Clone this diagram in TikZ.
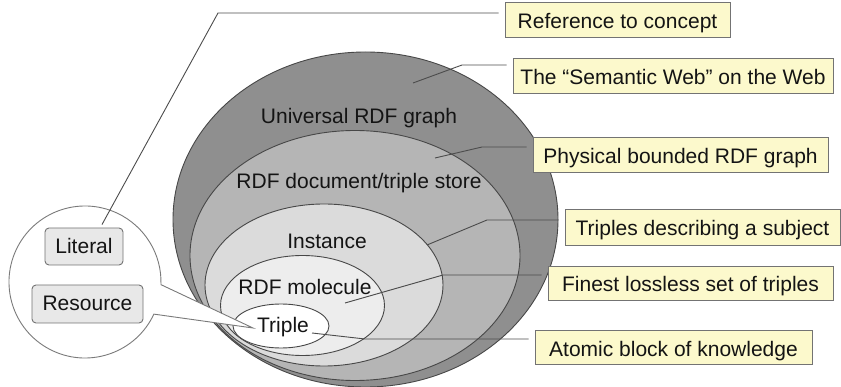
\documentclass[tikz,border=0pt]{standalone}
\usepackage{fontspec}
\setmainfont{Liberation Sans}
\usetikzlibrary{calc}
\definecolor{ringA}{gray}{0.56}
\definecolor{ringB}{gray}{0.71}
\definecolor{ringC}{gray}{0.86}
\definecolor{ringD}{gray}{0.93}
\definecolor{edge}{gray}{0.28}
\definecolor{lead}{gray}{0.3}
\definecolor{notefill}{RGB}{252,249,204}
\definecolor{noteedge}{gray}{0.45}
\definecolor{tagfill}{gray}{0.91}
\definecolor{lens}{gray}{0.48}
\begin{document}
\begin{tikzpicture}[x=1pt,y=-1pt,
  font=\fontsize{21}{25}\selectfont,
  every node/.style={text=black!92},
  ring/.style={draw=edge,line width=0.9pt},
  lbl/.style={anchor=base,inner sep=0pt},
  note/.style={draw=noteedge,fill=notefill,line width=0.9pt,minimum height=35pt,
    inner sep=0pt,text height=19pt,text depth=1pt},
  tag/.style={draw=noteedge,fill=tagfill,rounded corners=4pt,line width=0.9pt,
    inner sep=0pt,text height=17pt,text depth=3pt},
  leader/.style={draw=lead,line width=0.9pt,shorten >=6pt}]

\useasboundingbox (0,0) rectangle (841,387);

% nested sets, from the whole web down to a single triple
\filldraw[ring,fill=ringA] (365.5,219.5) ellipse [x radius=192.5pt, y radius=167.5pt];
\filldraw[ring,fill=ringB] (355,255.5) ellipse [x radius=165pt, y radius=125pt];
\filldraw[ring,fill=ringC] (324,285) ellipse [x radius=119pt, y radius=81pt];
\filldraw[ring,fill=ringD] (302.5,305.5) ellipse [x radius=82pt, y radius=50pt];
\filldraw[ring,fill=white] (281,326) ellipse [x radius=48pt, y radius=22pt];

% magnifying lens pointing at the triple
\coordinate (lensc) at (85,282);
\coordinate (tip) at (253,328);
\filldraw[draw=lens,fill=white,line width=0.9pt]
  ([shift={(-2:76pt)}]lensc) -- (tip) -- ([shift={(-25:76pt)}]lensc)
  arc[start angle=-25,end angle=-362,radius=76pt] -- cycle;

% set labels
\node[lbl] (univ) at (359,124) {Universal RDF graph};
\node[lbl] (doc) at (359,189) {RDF document/triple store};
\node[lbl] (inst) at (327,249) {Instance};
\node[lbl] (mol) at (305,295) {RDF molecule};
\node[lbl] (trip) at (283,333) {Triple};

% parts of a triple
\node[tag,minimum width=78pt,minimum height=37pt] (lit) at (84,246.5) {Literal};
\node[tag,minimum width=111pt,minimum height=38pt] (res) at (87.5,304) {Resource};

% explanations
\node[note,minimum width=225pt] (ref) at (617.5,19.5) {Reference to concept};
\node[note,minimum width=320pt] (sw) at (673,75.5) {The “Semantic Web” on the Web};
\node[note,minimum width=295pt] (phys) at (680.5,154.5) {Physical bounded RDF graph};
\node[note,minimum width=275pt,minimum height=36pt] (subj) at (702.5,227) {Triples describing a subject};
\node[note,minimum width=285pt,minimum height=34pt] (fine) at (690.5,283) {Finest lossless set of triples};
\node[note,minimum width=277pt,minimum height=34pt] (atom) at (673.5,347) {Atomic block of knowledge};

% leader lines
\coordinate (r0) at (218,13);
\draw[leader] ([xshift=18pt,yshift=3pt]lit.north) -- (r0) -- (r0 -| ref.west);
\coordinate (s0) at (413,83);
\coordinate (s1) at (462,65);
\draw[leader] (s0) -- (s1) -- (s1 -| sw.west);
\coordinate (p0) at (435,158);
\coordinate (p1) at (482,147);
\draw[leader] (p0) -- (p1) -- (p1 -| phys.west);
\coordinate (t0) at (427,245);
\coordinate (t1) at (487,220);
\draw[leader] (t0) -- (t1) -- (t1 -| subj.west);
\coordinate (f0) at (345,303);
\coordinate (f1) at (443,275);
\draw[leader] (f0) -- (f1) -- (f1 -| fine.west);
\coordinate (a0) at (312,333);
\coordinate (a1) at (365,339);
\draw[leader] (a0) -- (a1) -- (a1 -| atom.west);
\end{tikzpicture}
\end{document}
